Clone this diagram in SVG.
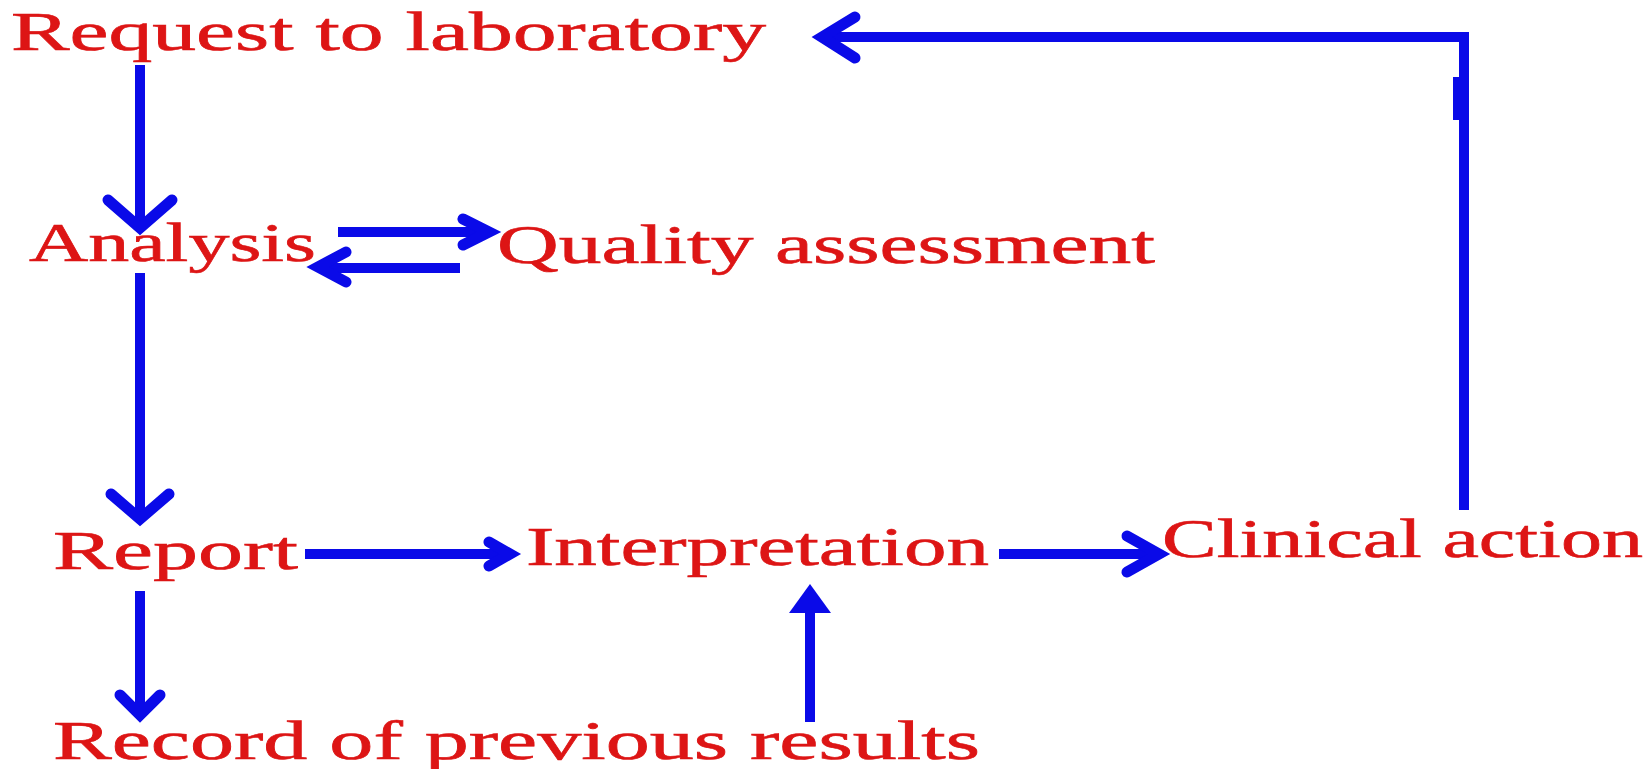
<svg xmlns="http://www.w3.org/2000/svg" width="1649" height="769" viewBox="0 0 1649 769">
<style>
.t{font-family:"Liberation Serif","Times New Roman",serif;font-size:55px;fill:#dd1515;stroke:#dd1515;stroke-width:0.6}
.c{fill:none;stroke:#0a0ae8;stroke-width:10;stroke-linejoin:miter;stroke-linecap:butt}
.h{fill:none;stroke:#0a0ae8;stroke-width:11;stroke-linejoin:miter;stroke-linecap:round}
.f{fill:#0a0ae8}
</style>
<rect width="1649" height="769" fill="#ffffff"/>
<g id="node-request"><text class="t" x="11" y="50" textLength="755" lengthAdjust="spacingAndGlyphs">Request to laboratory</text></g>
<g id="node-analysis"><text class="t" x="29" y="261" textLength="287" lengthAdjust="spacingAndGlyphs">Analysis</text></g>
<g id="node-quality"><text class="t" x="497" y="263" textLength="658" lengthAdjust="spacingAndGlyphs">Quality assessment</text></g>
<g id="node-report"><text class="t" x="53" y="569" textLength="245" lengthAdjust="spacingAndGlyphs">Report</text></g>
<g id="node-interpretation"><text class="t" x="526" y="565" textLength="463" lengthAdjust="spacingAndGlyphs">Interpretation</text></g>
<g id="node-clinical"><text class="t" x="1162" y="557" textLength="481" lengthAdjust="spacingAndGlyphs">Clinical action</text></g>
<g id="node-record"><text class="t" x="53" y="759" textLength="927" lengthAdjust="spacingAndGlyphs">Record of previous results</text></g>
<g id="connectors">
<path class="c" d="M140,65 V224"/><path class="h" d="M108,200 L140,228 L172,200"/>
<path class="c" d="M338,232 H486"/><path class="h" d="M463,219 L489,232 L463,245"/>
<path class="c" d="M460,268 H322"/><path class="h" d="M346,252 L318,267 L346,282"/>
<path class="c" d="M140,273 V515"/><path class="h" d="M111,494 L140,519 L169,494"/>
<path class="c" d="M305,554 H506"/><path class="h" d="M489,542 L510,554 L489,566"/>
<path class="c" d="M999,554 H1156"/><path class="h" d="M1127,536 L1159,554 L1127,572"/>
<path class="c" d="M140,591 V711"/><path class="h" d="M120,695 L140,715 L160,695"/>
<path class="c" d="M810,722 V605"/><path class="f" d="M810,584 L789,613 L831,613 Z"/>
<path class="c" d="M1464,510 V37 H826"/><path class="h" d="M855,17 L822,37 L855,58"/>
<rect class="f" x="1453" y="77" width="7" height="43"/>
</g>
</svg>
